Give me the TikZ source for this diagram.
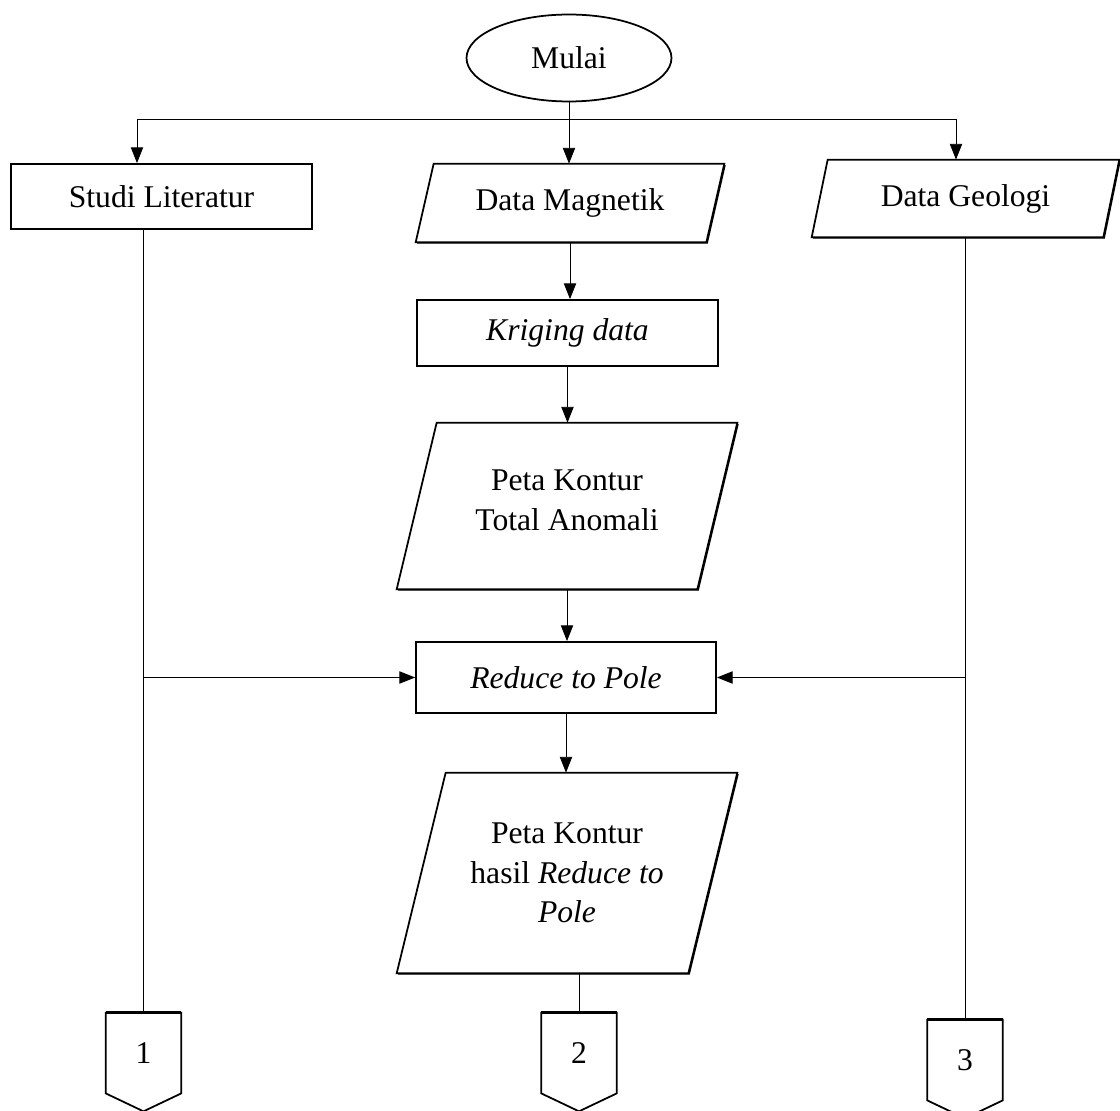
\documentclass[tikz,border=0pt]{standalone}
\usepackage{fontspec}
\setmainfont{Liberation Serif}
\usetikzlibrary{positioning}
\usetikzlibrary{arrows.meta}
\usetikzlibrary{shapes.geometric}
\usetikzlibrary{shadows}
\pgfdeclarelayer{background}
\pgfsetlayers{background,main}
\tikzset {
  every node/.style={font=\fontsize{18}{22.5}\selectfont, align=center},
  % hard shadow on bottom and right edges
  edge shadow/.style={fill=white, drop shadow={shadow xshift=0.8pt, shadow yshift=-0.8pt, fill=black, opacity=1}},
  % start / end ellipse
  terminal/.style={draw, ellipse, line width=1pt, minimum width=4.1cm, minimum height=1.74cm},
  % process box
  process/.style={draw, rectangle, line width=1pt, edge shadow},
  % text holder of a parallelogram, outline drawn behind it
  data/.style={rectangle, inner sep=0pt},
  outline/.style={line width=1pt},
  % off page connector
  offpage/.style={rectangle, minimum width=1.5cm, minimum height=1.6cm},
  % connectors
  flow/.style={-{Triangle[length=9pt, width=7pt]}, line width=0.5pt},
  link/.style={line width=0.5pt},
}
\begin{document}
\begin{tikzpicture}[x=0.02cm, y=-0.02cm]
      \useasboundingbox (0,0) rectangle (1120,1111);

      \node[terminal] (mulai) at (569,58) {Mulai};

      \node[process, minimum width=6.02cm, minimum height=1.3cm] (studi) at (161.5,196.5) {Studi Literatur};
      \node[data, minimum width=5.8cm, minimum height=1.56cm] (magnetik) at (570,203) {Data Magnetik};
      \node[data, minimum width=5.82cm, minimum height=1.54cm] (geologi) at (965.5,198.5) {Data Geologi};

      \node[process, minimum width=6.02cm, minimum height=1.32cm] (kriging) at (567.5,333) {\textit{Kriging data}};
      \node[data, minimum width=6cm, minimum height=3.32cm] (anomali) at (567,506) {Peta Kontur\\Total Anomali\\[-16pt]};
      \node[process, minimum width=6cm, minimum height=1.42cm] (rtp) at (566,677.5) {\textit{Reduce to Pole}};
      \node[data, minimum width=5.82cm, minimum height=4cm] (hasil) at (567,873) {Peta Kontur\\hasil \textit{Reduce to}\\\textit{Pole}};

      \node[offpage] (c1) at (143.5,1053) {1};
      \node[offpage] (c2) at (579,1053) {2};
      \node[offpage] (c3) at (965,1060) {3};

      % parallelograms
      \begin{pgfonlayer}{background}
      \draw[outline, edge shadow] ([xshift=0.18cm]magnetik.north west) -- ([xshift=0.18cm]magnetik.north east)
        -- ([xshift=-0.18cm]magnetik.south east) -- ([xshift=-0.18cm]magnetik.south west) -- cycle;
      \draw[outline, edge shadow] ([xshift=0.16cm]geologi.north west) -- ([xshift=0.16cm]geologi.north east)
        -- ([xshift=-0.16cm]geologi.south east) -- ([xshift=-0.16cm]geologi.south west) -- cycle;
      \draw[outline, edge shadow] ([xshift=0.4cm]anomali.north west) -- ([xshift=0.4cm]anomali.north east)
        -- ([xshift=-0.4cm]anomali.south east) -- ([xshift=-0.4cm]anomali.south west) -- cycle;
      \draw[outline, edge shadow] ([xshift=0.49cm]hasil.north west) -- ([xshift=0.49cm]hasil.north east)
        -- ([xshift=-0.49cm]hasil.south east) -- ([xshift=-0.49cm]hasil.south west) -- cycle;
      \end{pgfonlayer}

      % off page connectors
      \draw[outline] (c1.north west) -- (c1.north east) -- (c1.south east)
        -- ([yshift=-0.36cm]c1.south) -- (c1.south west) -- cycle;
      \draw[outline] (c2.north west) -- (c2.north east) -- (c2.south east)
        -- ([yshift=-0.36cm]c2.south) -- (c2.south west) -- cycle;
      \draw[outline] (c3.north west) -- (c3.north east) -- (c3.south east)
        -- ([yshift=-0.36cm]c3.south) -- (c3.south west) -- cycle;
      \draw[line width=2pt] (c1.north west) -- (c1.north east);
      \draw[line width=2pt] (c2.north west) -- (c2.north east);
      \draw[line width=2pt] (c3.north west) -- (c3.north east);

      \coordinate (fork) at (569,119);
      \coordinate (forkL) at (137,119);
      \coordinate (forkR) at (956,119);

      \draw [link] (mulai) -- (fork);
      \draw [link] (forkL) -- (forkR);
      \draw [flow] (forkL) -- (forkL |- studi.north);
      \draw [flow] (fork) -- (fork |- magnetik.north);
      \draw [flow] (forkR) -- (forkR |- geologi.north);

      \draw [flow] (magnetik.south) -- (magnetik.south |- kriging.north);
      \draw [flow] (kriging.south) -- (kriging.south |- anomali.north);
      \draw [flow] (anomali.south) -- (anomali.south |- rtp.north);
      \draw [flow] (rtp.south) -- (rtp.south |- hasil.north);

      \draw [link] (c1.north) -- (c1.north |- studi.south);
      \draw [link] (c2.north) -- (c2.north |- hasil.south);
      \draw [link] (c3.north) -- (c3.north |- geologi.south);

      \draw [flow] (c1.north |- rtp.west) -- (rtp.west);
      \draw [flow] (c3.north |- rtp.east) -- (rtp.east);
    \end{tikzpicture}
\end{document}
